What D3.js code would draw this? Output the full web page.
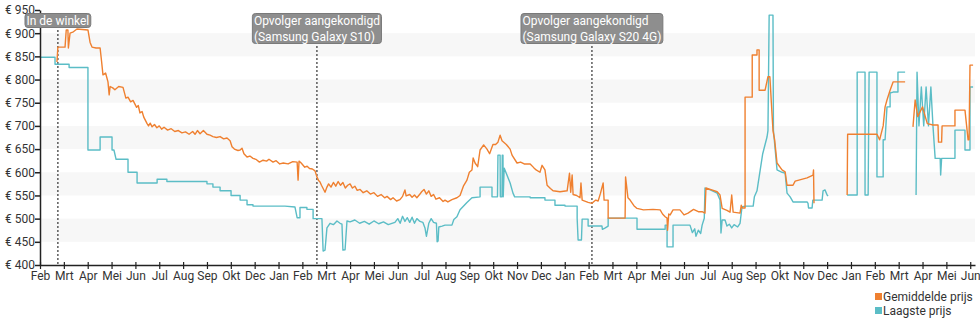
<!DOCTYPE html>
<html><head><meta charset="utf-8">
<script src="https://cdn.jsdelivr.net/npm/d3@7"></script>
<style>
html,body{margin:0;padding:0;background:#fff;}
svg{display:block;font-family:Roboto, "Noto Sans", sans-serif;}
</style></head>
<body><svg id="chart" width="980" height="325"></svg>
<script>
// x positions are month positions on the chart's axis (0 = Feb 2018; the axis has no November 2018 tick)
const monthLabels = ["Feb","Mrt","Apr","Mei","Jun","Jul","Aug","Sep","Okt","Dec","Jan","Feb",
  "Mrt","Apr","Mei","Jun","Jul","Aug","Sep","Okt","Nov","Dec","Jan","Feb",
  "Mrt","Apr","Mei","Jun","Jul","Aug","Sep","Okt","Nov","Dec","Jan","Feb",
  "Mrt","Apr","Mei","Jun"];
const priceTicks = [400,450,500,550,600,650,700,750,800,850,900,950];
const seriesNames = ["Gemiddelde prijs","Laagste prijs"];
const eventPos = [0.75, 11.61, 23.14];
const eventLabels = [["In de winkel"],["Opvolger aangekondigd","(Samsung Galaxy S10)"],["Opvolger aangekondigd","(Samsung Galaxy S20 4G)"]];

const avgPrice = [[0.71,838],[0.75,870],[1.05,870],[1.10,907],[1.17,907],[1.19,868],[1.26,900],[1.40,903],[1.55,909],[2.01,907],[2.10,880],[2.18,870],[2.35,868],[2.52,868],[2.58,840],[2.64,810],[2.75,814],[2.85,795],[2.90,767],[2.94,785],[3.05,782],[3.14,778],[3.30,785],[3.48,783],[3.60,760],[3.69,762],[3.80,752],[3.90,755],[4.05,740],[4.12,744],[4.19,728],[4.28,731],[4.35,719],[4.42,712],[4.49,705],[4.55,700],[4.62,706],[4.70,698],[4.80,703],[4.90,696],[5.00,700],[5.10,693],[5.20,697],[5.35,691],[5.50,694],[5.65,688],[5.80,690],[5.95,685],[6.10,687],[6.25,682],[6.40,688],[6.50,682],[6.60,690],[6.71,683],[6.85,690],[7.00,682],[7.13,680],[7.25,677],[7.40,675],[7.55,677],[7.70,672],[7.84,674],[7.97,668],[8.05,655],[8.15,650],[8.30,647],[8.39,648],[8.47,652],[8.55,640],[8.68,633],[8.80,635],[8.93,630],[9.05,628],[9.20,622],[9.35,626],[9.50,624],[9.60,628],[9.77,622],[9.90,625],[10.05,618],[10.20,620],[10.40,618],[10.60,623],[10.78,622],[10.82,583],[10.86,624],[10.95,620],[11.10,611],[11.20,613],[11.30,608],[11.42,607],[11.53,603],[11.61,590],[11.68,582],[11.74,579],[11.80,572],[11.87,565],[11.95,557],[12.03,568],[12.10,575],[12.20,568],[12.30,578],[12.40,570],[12.50,580],[12.60,572],[12.70,578],[12.80,566],[12.90,572],[13.00,575],[13.10,566],[13.20,570],[13.30,561],[13.42,563],[13.55,556],[13.70,560],[13.85,553],[14.00,556],[14.15,548],[14.30,552],[14.45,545],[14.55,548],[14.70,541],[14.80,545],[14.95,538],[15.09,541],[15.20,548],[15.30,562],[15.35,549],[15.50,552],[15.60,546],[15.70,551],[15.80,545],[15.93,553],[16.00,558],[16.10,563],[16.20,553],[16.30,560],[16.40,548],[16.50,552],[16.60,542],[16.75,545],[16.90,537],[16.98,540],[17.10,536],[17.27,541],[17.48,545],[17.61,550],[17.75,570],[17.90,583],[18.00,600],[18.11,605],[18.16,631],[18.24,620],[18.35,612],[18.45,648],[18.60,659],[18.74,650],[18.85,640],[18.99,660],[19.10,660],[19.20,665],[19.29,680],[19.37,668],[19.55,660],[19.71,650],[19.79,637],[20.00,620],[20.15,622],[20.30,618],[20.55,618],[20.70,610],[20.80,605],[20.96,600],[21.05,615],[21.17,605],[21.26,572],[21.40,565],[21.51,560],[21.80,558],[22.10,560],[22.20,598],[22.25,557],[22.31,594],[22.35,552],[22.50,550],[22.64,545],[22.68,577],[22.73,540],[22.98,535],[23.14,533],[23.30,540],[23.40,538],[23.50,555],[23.61,577],[23.65,540],[23.82,540],[23.82,501],[24.53,501],[24.55,590],[24.65,545],[24.74,540],[24.90,528],[25.03,522],[25.30,519],[25.70,520],[26.00,519],[26.10,510],[26.21,504],[26.29,501],[26.31,475],[26.36,510],[26.42,508],[26.54,519],[26.83,519],[27.00,508],[27.17,512],[27.40,520],[27.60,515],[27.76,515],[27.88,512],[27.92,566],[28.10,563],[28.39,558],[28.51,551],[28.60,522],[28.80,518],[28.93,514],[29.00,551],[29.06,514],[29.35,512],[29.40,529],[29.45,523],[29.56,523],[29.56,762],[29.86,762],[29.86,853],[30.06,853],[30.06,864],[30.15,864],[30.15,777],[30.40,777],[30.52,806],[30.60,806],[30.73,690],[30.80,670],[30.90,620],[31.11,605],[31.24,601],[31.32,572],[31.57,572],[31.66,581],[32.16,588],[32.41,594],[32.43,605],[32.45,533],[32.46,null],
  [33.84,551],[33.86,682],[35.09,682],[35.20,670],[35.35,700],[35.43,741],[35.51,756],[35.64,777],[35.77,795],[35.97,795],[36.27,795],[36.28,null],
  [36.60,698],[36.69,756],[36.80,720],[37.00,741],[37.20,705],[37.44,702],[37.65,702],[37.67,665],[37.80,665],[37.82,700],[38.36,700],[38.36,734],[38.78,734],[38.91,670],[38.95,670],[38.99,831],[39.12,831]];

const lowPrice = [[0,848],[0.63,848],[0.63,833],[1.22,833],[1.22,826],[2.01,826],[2.01,648],[2.52,648],[2.52,676],[3.02,676],[3.02,648],[3.10,648],[3.19,628],[3.69,628],[3.69,600],[4.07,600],[4.07,577],[4.91,577],[4.91,585],[5.32,585],[5.32,580],[7.00,580],[7.00,575],[7.25,575],[7.25,568],[7.55,568],[7.55,560],[8.01,560],[8.01,550],[8.39,550],[8.39,540],[8.68,540],[8.68,530],[8.93,530],[8.93,527],[10.27,527],[10.69,525],[10.78,502],[10.90,502],[10.90,524],[11.19,524],[11.19,520],[11.45,520],[11.45,500],[11.82,500],[11.87,430],[11.95,432],[12.03,480],[12.16,490],[12.30,487],[12.45,495],[12.58,490],[12.66,488],[12.70,432],[12.79,433],[12.87,495],[13.00,493],[13.20,497],[13.40,490],[13.60,494],[13.80,488],[14.00,495],[14.20,489],[14.40,493],[14.60,487],[14.88,492],[15.00,500],[15.10,490],[15.20,505],[15.30,494],[15.40,502],[15.50,492],[15.60,503],[15.70,490],[15.80,500],[15.93,494],[16.05,492],[16.14,480],[16.20,462],[16.30,490],[16.40,500],[16.50,492],[16.62,490],[16.65,450],[16.69,452],[16.72,482],[16.86,484],[16.98,486],[17.27,486],[17.35,498],[17.48,504],[17.61,519],[17.90,535],[18.11,545],[18.45,547],[18.45,568],[18.95,568],[18.95,547],[19.18,547],[19.20,637],[19.29,637],[19.30,547],[19.37,547],[19.38,637],[19.41,637],[19.42,547],[19.46,609],[19.71,577],[19.83,555],[19.90,547],[20.55,547],[20.55,545],[21.17,545],[21.17,540],[21.59,540],[21.59,529],[22.01,529],[22.01,527],[22.52,527],[22.52,501],[22.56,454],[22.70,454],[22.73,499],[22.98,499],[22.98,484],[23.56,484],[23.58,477],[23.70,480],[23.82,484],[23.82,501],[25.03,501],[25.03,477],[26.21,477],[26.21,486],[26.29,486],[26.29,439],[26.54,439],[26.54,486],[27.25,486],[27.35,470],[27.45,478],[27.50,462],[27.60,475],[27.70,468],[27.76,486],[27.85,501],[27.88,566],[28.10,562],[28.39,555],[28.51,540],[28.55,469],[28.60,497],[28.72,497],[28.80,484],[28.90,488],[29.00,480],[29.10,487],[29.25,482],[29.35,490],[29.43,525],[29.56,527],[29.90,527],[29.95,547],[30.06,560],[30.15,590],[30.30,640],[30.48,676],[30.52,690],[30.57,939],[30.73,939],[30.75,690],[30.90,605],[31.11,600],[31.24,598],[31.32,555],[31.45,547],[31.57,536],[32.16,536],[32.20,533],[32.22,523],[32.37,523],[32.40,540],[32.79,540],[32.83,560],[32.91,562],[33.00,551],[33.04,549],[33.05,null],
  [33.84,551],[34.26,551],[34.26,816],[34.59,816],[34.59,551],[34.72,551],[34.76,816],[35.09,816],[35.09,590],[35.35,590],[35.35,670],[35.43,670],[35.51,741],[35.64,741],[35.64,771],[35.77,773],[35.97,773],[35.97,816],[36.27,816],[36.28,null],
  [36.73,551],[36.77,816],[36.85,700],[36.95,784],[37.05,700],[37.15,784],[37.25,700],[37.35,784],[37.44,698],[37.53,630],[37.74,630],[37.76,594],[37.80,630],[38.36,630],[38.36,691],[38.78,691],[38.78,648],[38.99,648],[38.99,784],[39.12,784]];

const colors = ["#ef8030","#5bbdc6"];

const svg = d3.select("#chart");
const x = d3.scaleLinear().domain([0, 39.2]).range([40, 975]);
const y = d3.scaleLinear().domain([400, 950]).range([265, 10]);

// alternating bands
const bandPairs = [[450,500],[550,600],[650,700],[750,800],[850,900]];
svg.append("g").selectAll("rect").data(bandPairs).join("rect")
  .attr("x", x(0)).attr("width", x(39.2)-x(0))
  .attr("y", d => y(d[1])).attr("height", d => y(d[0]) - y(d[1]))
  .attr("fill", "#f7f7f7");

// event lines
svg.append("g").selectAll("line").data(eventPos).join("line")
  .attr("x1", d => x(d)).attr("x2", d => x(d))
  .attr("y1", 14).attr("y2", y(400))
  .attr("stroke", "#333").attr("stroke-width", 1.2).attr("stroke-dasharray", "2,2");

// lines
const line = d3.line().defined(d => d[1] !== null).x(d => x(d[0])).y(d => y(d[1]));
svg.append("path").datum(lowPrice).attr("d", line).attr("fill","none")
  .attr("stroke", colors[1]).attr("stroke-width", 1.4).attr("stroke-linejoin","round");
svg.append("path").datum(avgPrice).attr("d", line).attr("fill","none")
  .attr("stroke", colors[0]).attr("stroke-width", 1.4).attr("stroke-linejoin","round");

// axes
const yAxis = svg.append("g").attr("transform", `translate(${x(0)},0)`)
  .call(d3.axisLeft(y).tickValues(priceTicks).tickFormat(d => "€ " + d).tickSize(5).tickSizeOuter(0));
yAxis.selectAll("text").attr("font-size", 12).attr("fill", "#333").attr("x", -5)
  .attr("font-family", "Roboto, sans-serif");
yAxis.select(".domain").attr("stroke", "#222").attr("stroke-width", 1.5);
yAxis.selectAll(".tick line").attr("stroke", "#222").attr("stroke-width", 1.5);

const xAxis = svg.append("g").attr("transform", `translate(0,${y(400)})`)
  .call(d3.axisBottom(x).tickValues(d3.range(monthLabels.length)).tickFormat(i => monthLabels[i]).tickSize(4).tickSizeOuter(0));
xAxis.selectAll("text").attr("font-size", 12).attr("fill", "#333").attr("y", 6)
  .attr("font-family", "Roboto, sans-serif");
xAxis.select(".domain").attr("stroke", "#222").attr("stroke-width", 1.5);
xAxis.selectAll(".tick line").attr("stroke", "#222").attr("y1", -3).attr("stroke-width", 1.2);

// event labels (left-aligned text, box centred on the event line)
const ev = svg.append("g").selectAll("g").data(eventPos).join("g");
ev.each(function(d, i) {
  const g = d3.select(this);
  const lines = eventLabels[i];
  const txt = g.append("text").attr("font-size", 12).attr("fill", "#fff")
    .attr("text-anchor", "start").attr("font-family", "Roboto, sans-serif");
  lines.forEach((l, j) => txt.append("tspan").attr("x", 0).attr("y", 25 + j * 16).text(l));
  const w = txt.node().getBBox().width;
  const left = x(d) - w / 2;
  txt.selectAll("tspan").attr("x", left);
  g.insert("rect", "text").attr("x", left - 1.5).attr("y", 13.5).attr("width", w + 3)
    .attr("height", 14 + (lines.length - 1) * 16).attr("rx", 3)
    .attr("fill", "#8e8e8e").attr("stroke", "#7a7a7a").attr("stroke-width", 1);
});

// legend
const leg = svg.append("g").selectAll("g").data(seriesNames).join("g")
  .attr("transform", (d, i) => `translate(875,${293 + i * 14})`);
leg.append("rect").attr("width", 7).attr("height", 7).attr("fill", (d, i) => colors[i]);
leg.append("text").attr("x", 8).attr("y", 8).attr("font-size", 12).attr("fill", "#333")
  .attr("font-family", "Roboto, sans-serif").text(d => d);
</script></body></html>
